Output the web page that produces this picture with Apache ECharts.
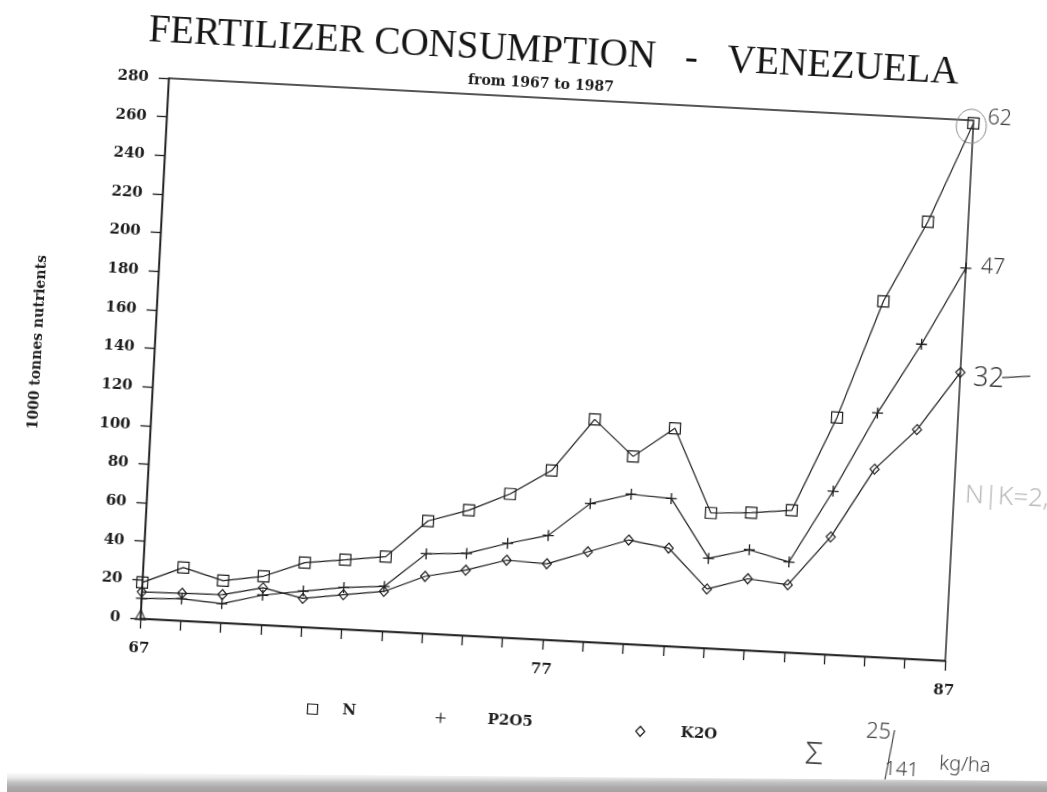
<!DOCTYPE html>
<html>
<head>
<meta charset="utf-8">
<title>Fertilizer consumption - Venezuela</title>
<script src="https://cdn.jsdelivr.net/npm/echarts/dist/echarts.min.js"></script>
<style>
  html, body { margin: 0; padding: 0; background: #fff; width: 1047px; height: 792px; overflow: hidden; position: relative; }
  /* the sheet sits slightly turned on the page */
  #chart { position: absolute; left: -60px; top: -40px; width: 1170px; height: 880px;
           transform-origin: 617.3px 409.4px; transform: rotate(3deg); }
  #edge { position: absolute; left: 7px; right: 0; top: 772px; height: 20px;
          clip-path: polygon(0 0, 100% 9px, 100% 100%, 0 100%);
          background: linear-gradient(to bottom, rgba(255,255,255,0) 0%, #e8e8e8 30%, #c2c2c2 52%, #aaaaaa 78%, #a2a2a2 100%); }
</style>
</head>
<body>
<div id="chart"></div>
<div id="edge"></div>
<script>
// Years 1967 .. 1987, thousand tonnes of nutrients
const years = [1967, 1968, 1969, 1970, 1971, 1972, 1973, 1974, 1975, 1976, 1977,
               1978, 1979, 1980, 1981, 1982, 1983, 1984, 1985, 1986, 1987];
const nitrogen  = [18.7, 27.5, 21.8, 25.2, 33.3, 35.9, 38.6, 58.2, 64.9, 74.4, 87.7,
                   115.2, 97.1, 112.8, 70.0, 71.2, 73.6, 122.7, 184.1, 226.4, 278.5];
const phosphate = [10.4, 11.3, 9.9, 15.4, 18.6, 21.5, 23.2, 41.2, 42.5, 48.8, 54.0,
                   71.6, 77.5, 76.4, 46.5, 52.0, 46.8, 84.6, 126.2, 162.9, 203.5];
const potash    = [13.8, 14.2, 14.6, 19.2, 14.8, 17.8, 20.6, 29.5, 33.8, 40.1, 39.3,
                   46.6, 53.8, 50.7, 30.6, 37.0, 35.0, 60.9, 97.1, 118.7, 149.4];
// stray plotter mark at the first year
const strayMark = [[1967, 2]];

const seriesNames = ['N', 'P2O5', 'K2O'];
const xTickLabels = ['67', '77', '87'];
const notes = { n: '62', p: '47', k: '32', ratio: 'N|K=2,3', sum: 'Σ', top: '25', bottom: '141', unit: 'kg/ha' };

const OX = 60, OY = 40;           // offset of the enlarged canvas
const INK = '#1e1e1e';
const LABEL_FONT = '"DejaVu Serif", serif';
const PLUS = 'path://M4.4,0H5.6V4.4H10V5.6H5.6V10H4.4V5.6H0V4.4H4.4Z';

const pairs = arr => years.map((y, i) => [y, arr[i]]);

const chart = echarts.init(document.getElementById('chart'), null, { renderer: 'canvas' });

function legendFor(name, iconLeft, iconTop, icon, textPad, style, size) {
  return {
    data: [{ name: name, icon: icon, itemStyle: style }],
    left: iconLeft + OX, top: iconTop + OY,
    orient: 'horizontal', padding: 0,
    itemWidth: size[0], itemHeight: size[1],
    selectedMode: false,
    textStyle: { fontFamily: LABEL_FONT, fontWeight: 'bold', fontSize: 15, color: INK,
                 padding: [0, 0, 0, textPad] }
  };
}

const hollow = { color: 'rgba(0,0,0,0)', borderColor: INK, borderWidth: 1.2 };

const option = {
  animation: false,
  backgroundColor: 'rgba(0,0,0,0)',
  title: [
    { text: 'FERTILIZER CONSUMPTION   -   VENEZUELA', left: 537 + OX, top: 33 + OY, textAlign: 'center',
      padding: 0,
      textStyle: { fontFamily: '"Liberation Serif", serif', fontWeight: 'normal', fontSize: 39, color: '#151515' } },
    { text: 'from 1967 to 1987', left: 526 + OX, top: 78 + OY, textAlign: 'center', padding: 0,
      textStyle: { fontFamily: LABEL_FONT, fontWeight: 'bold', fontSize: 14, color: INK } }
  ],
  legend: [
    legendFor(seriesNames[0], 325, 714, 'rect', 20, hollow, [10, 10]),
    legendFor(seriesNames[1], 454, 716, PLUS, 37, { color: INK, borderWidth: 0 }, [10, 10]),
    legendFor(seriesNames[2], 654, 719, 'diamond', 31, hollow, [9, 10])
  ],
  grid: { left: 154 + OX, top: 99 + OY, width: 806, height: 541, show: true,
          borderColor: INK, borderWidth: 1.4, backgroundColor: 'rgba(0,0,0,0)',
          containLabel: false, outerBoundsMode: 'none' },
  xAxis: {
    type: 'value', min: 1967, max: 1987, interval: 1,
    axisLine: { show: true, lineStyle: { color: INK, width: 1.4 } },
    axisTick: { show: true, inside: false, length: 10, lineStyle: { color: INK, width: 1.3 } },
    axisLabel: {
      show: true, margin: 23, showMinLabel: true, showMaxLabel: true,
      fontFamily: LABEL_FONT, fontWeight: 'bold', fontSize: 15, color: INK,
      formatter: v => {
        const label = String(v).slice(2);
        return xTickLabels.includes(label) ? label : '';
      }
    },
    splitLine: { show: false }
  },
  yAxis: {
    type: 'value', min: 0, max: 280, interval: 20,
    name: '1000 tonnes nutrients', nameLocation: 'middle', nameGap: 110, nameRotate: 90,
    nameTextStyle: { fontFamily: LABEL_FONT, fontWeight: 'bold', fontSize: 14, color: INK },
    axisLine: { show: true, lineStyle: { color: INK, width: 1.4 } },
    axisTick: { show: true, inside: false, length: 10, lineStyle: { color: INK, width: 1.3 } },
    axisLabel: { show: true, margin: 20, fontFamily: LABEL_FONT, fontWeight: 'bold', fontSize: 15, color: INK },
    splitLine: { show: false }
  },
  series: [
    { name: seriesNames[0], type: 'line', data: pairs(nitrogen), symbol: 'rect', symbolSize: 11,
      showAllSymbol: true, itemStyle: hollow, lineStyle: { color: INK, width: 1.2 } },
    { name: seriesNames[1], type: 'line', data: pairs(phosphate), symbol: PLUS, symbolSize: 11,
      showAllSymbol: true, itemStyle: { color: INK }, lineStyle: { color: INK, width: 1.2 } },
    { name: seriesNames[2], type: 'line', data: pairs(potash), symbol: 'diamond', symbolSize: [9, 10],
      showAllSymbol: true, itemStyle: hollow, lineStyle: { color: INK, width: 1.2 } },
    { name: 'stray', type: 'scatter', data: strayMark, symbol: 'triangle', symbolSize: [10, 10],
      itemStyle: hollow, legendHoverLink: false }
  ]
};

chart.setOption(option);

// hand-written pen notes beside the last year and at the foot of the sheet
const last = years.length - 1;
const pN = chart.convertToPixel({ gridIndex: 0 }, [years[last], nitrogen[last]]);
const pP = chart.convertToPixel({ gridIndex: 0 }, [years[last], phosphate[last]]);
const pK = chart.convertToPixel({ gridIndex: 0 }, [years[last], potash[last]]);

const HAND = '300 {s}px "Noto Sans", sans-serif';
const pen = (txt, x, y, size, color, align) => ({
  type: 'text', x: x, y: y, silent: true,
  style: { text: txt, font: HAND.replace('{s}', size), fill: color || '#3a3a3a',
           textAlign: align || 'left', textVerticalAlign: 'middle',
           align: align || 'left', verticalAlign: 'middle' }
});

chart.setOption({
  graphic: [
    { type: 'ellipse', silent: true, shape: { cx: pN[0] - 2, cy: pN[1] + 3, rx: 15, ry: 17 },
      style: { fill: 'none', stroke: '#8a8a8a', lineWidth: 1 } },
    pen(notes.n, pN[0] + 14, pN[1] - 6, 21),
    pen(notes.p, pP[0] + 15, pP[1] - 2, 21),
    pen(notes.k, pK[0] + 13, pK[1] + 5, 27),
    { type: 'line', silent: true, shape: { x1: pK[0] + 42, y1: pK[1] + 3, x2: pK[0] + 70, y2: pK[1] },
      style: { stroke: '#3a3a3a', lineWidth: 1.2 } },
    pen(notes.ratio, 971 + OX, 474 + OY, 26, '#b9b9b9'),
    pen(notes.sum, 834 + OX, 741 + OY, 32, '#444', 'center'),
    pen(notes.top, 897 + OX, 715 + OY, 22, '#444', 'center'),
    { type: 'line', silent: true, shape: { x1: 913 + OX, y1: 712 + OY, x2: 906 + OX, y2: 762 + OY },
      style: { stroke: '#444', lineWidth: 1.2 } },
    pen(notes.bottom, 922 + OX, 751 + OY, 20, '#444', 'center'),
    pen(notes.unit, 985 + OX, 743 + OY, 20, '#444', 'center')
  ]
});
</script>
</body>
</html>
